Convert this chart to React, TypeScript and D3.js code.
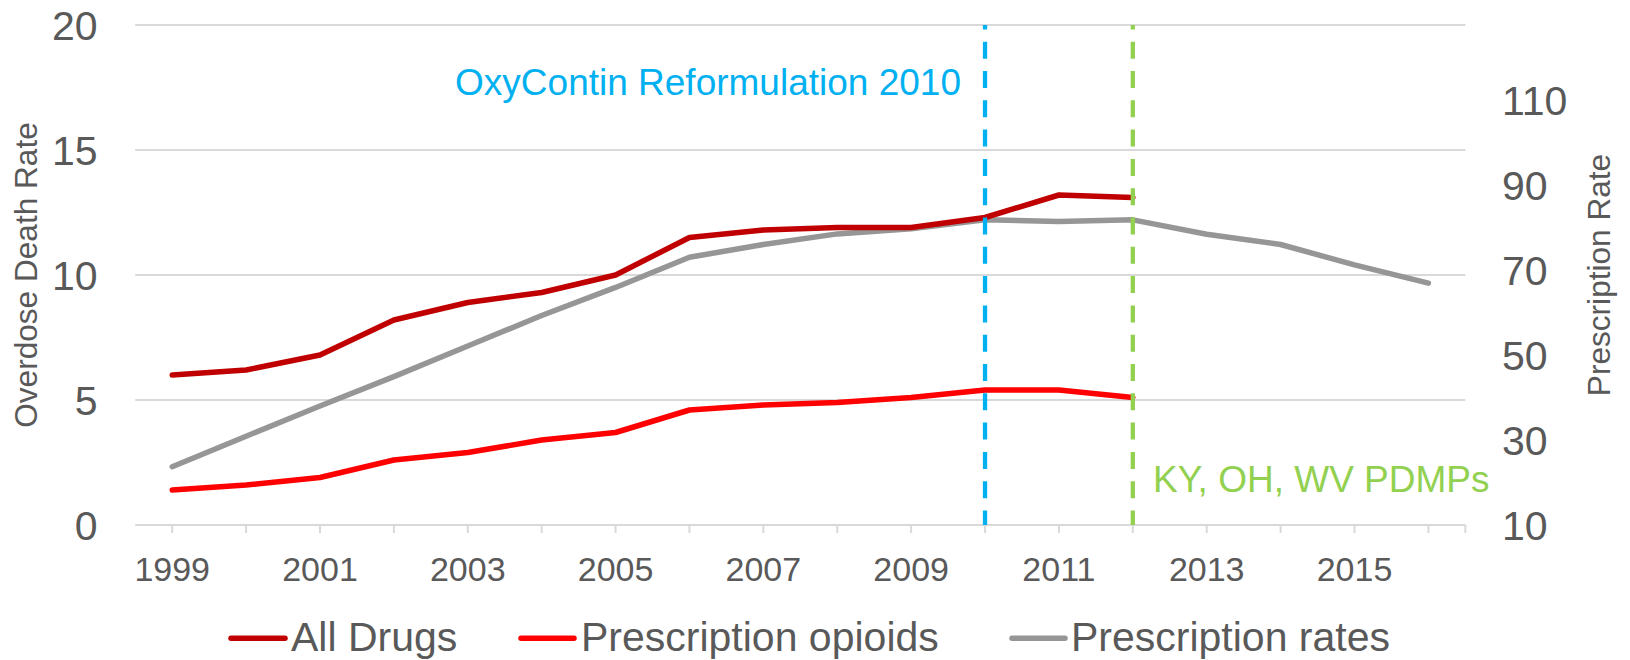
import React from "react";
import * as d3 from "d3";

const years = d3.range(1999, 2017);
const tickLabelYears = [1999, 2001, 2003, 2005, 2007, 2009, 2011, 2013, 2015];
const leftTicks = [0, 5, 10, 15, 20];
const rightTicks = [10, 30, 50, 70, 90, 110];

const allDrugsYears = d3.range(1999, 2013);
const allDrugs = [6.0, 6.2, 6.8, 8.2, 8.9, 9.3, 10.0, 11.5, 11.8, 11.9, 11.9, 12.3, 13.2, 13.1];
const opioidYears = d3.range(1999, 2013);
const opioids = [1.4, 1.6, 1.9, 2.6, 2.9, 3.4, 3.7, 4.6, 4.8, 4.9, 5.1, 5.4, 5.4, 5.1];
const rxYears = d3.range(1999, 2017);
const rxRates = [23.7, 30.9, 38.0, 44.9, 52.1, 59.3, 65.9, 73.0, 76.0, 78.5, 79.7, 81.8, 81.4, 81.8, 78.4, 76.0, 71.2, 66.9];

const events = [
  { year: 2010, label: "OxyContin Reformulation 2010", color: "#00b0f0" },
  { year: 2012, label: "KY, OH, WV PDMPs", color: "#92d050" },
];

const legendItems = [
  { label: "All Drugs", color: "#c00000" },
  { label: "Prescription opioids", color: "#ff0000" },
  { label: "Prescription rates", color: "#969696" },
];

const FONT = "'Liberation Sans', Arial, sans-serif";
const TEXT = "#595959";
const GRID = "#d9d9d9";

export default function App() {
  const x = d3.scaleLinear().domain([1999, 2016]).range([172.2, 1428.4]);
  const yL = d3.scaleLinear().domain([0, 20]).range([525, 25]);
  const yR = d3.scaleLinear().domain([10, 127.65]).range([525, 25]);
  const left = x(1998.5);
  const right = x(2016.5);

  const lineL = d3
    .line<[number, number]>()
    .x((d) => x(d[0]))
    .y((d) => yL(d[1]));
  const lineR = d3
    .line<[number, number]>()
    .x((d) => x(d[0]))
    .y((d) => yR(d[1]));

  const allPts = allDrugsYears.map((yr, i) => [yr, allDrugs[i]] as [number, number]);
  const opPts = opioidYears.map((yr, i) => [yr, opioids[i]] as [number, number]);
  const rxPts = rxYears.map((yr, i) => [yr, rxRates[i]] as [number, number]);

  const legendLayout = [
    { x0: 231, x1: 285, tx: 291 },
    { x0: 521, x1: 574, tx: 581 },
    { x0: 1012, x1: 1065, tx: 1071 },
  ];

  return (
    <svg
      width={1630}
      height={660}
      style={{ position: "absolute", left: 0, top: 0, background: "#fff" }}
      fontFamily={FONT}
    >
      {/* gridlines */}
      {leftTicks.map((t) => (
        <line key={"g" + t} x1={left} x2={right} y1={yL(t)} y2={yL(t)} stroke={GRID} strokeWidth={2} />
      ))}
      {/* x ticks */}
      {[...years, 2016.5].map((yr) => (
        <line key={"t" + yr} x1={x(yr)} x2={x(yr)} y1={yL(0)} y2={yL(0) + 8} stroke={GRID} strokeWidth={2} />
      ))}
      {tickLabelYears.map((yr) => (
        <text key={"xl" + yr} x={x(yr)} y={580.5} textAnchor="middle" fontSize={34} fill={TEXT}>
          {yr}
        </text>
      ))}
      {/* left axis labels */}
      {leftTicks.map((t) => (
        <text key={"yl" + t} x={97.5} y={yL(t) + 41 * 0.358} textAnchor="end" fontSize={41} fill={TEXT}>
          {t}
        </text>
      ))}
      {/* right axis labels */}
      {rightTicks.map((t) => (
        <text key={"yr" + t} x={1502} y={yR(t) + 41 * 0.358} textAnchor="start" fontSize={41} fill={TEXT}>
          {t}
        </text>
      ))}
      {/* axis titles */}
      <text
        transform={`translate(37,275) rotate(-90)`}
        textAnchor="middle"
        fontSize={31.6}
        fill={TEXT}
      >
        Overdose Death Rate
      </text>
      <text
        transform={`translate(1610,275) rotate(-90)`}
        textAnchor="middle"
        fontSize={31.6}
        fill={TEXT}
      >
        Prescription Rate
      </text>

      {/* series */}
      <path d={lineR(rxPts) || ""} fill="none" stroke="#969696" strokeWidth={5.5} strokeLinecap="round" strokeLinejoin="round" />
      <path d={lineL(allPts) || ""} fill="none" stroke="#c00000" strokeWidth={5.5} strokeLinecap="round" strokeLinejoin="round" />
      <path d={lineL(opPts) || ""} fill="none" stroke="#ff0000" strokeWidth={5.5} strokeLinecap="round" strokeLinejoin="round" />

      {/* event lines */}
      {events.map((e) => (
        <line
          key={"e" + e.year}
          x1={x(e.year)}
          x2={x(e.year)}
          y1={yL(20)}
          y2={yL(0)}
          stroke={e.color}
          strokeWidth={4.3}
          strokeDasharray="17 12.3"
          strokeDashoffset={12.6}
        />
      ))}
      <text x={961} y={95} textAnchor="end" fontSize={37} fill={events[0].color}>
        {events[0].label}
      </text>
      <text x={1153} y={491.7} textAnchor="start" fontSize={37} fill={events[1].color}>
        {events[1].label}
      </text>

      {/* legend */}
      {legendItems.map((it, i) => (
        <g key={"lg" + i}>
          <line
            x1={legendLayout[i].x0}
            x2={legendLayout[i].x1}
            y1={638.3}
            y2={638.3}
            stroke={it.color}
            strokeWidth={5.5}
            strokeLinecap="round"
          />
          <text x={legendLayout[i].tx} y={651} fontSize={41} fill={TEXT}>
            {it.label}
          </text>
        </g>
      ))}
    </svg>
  );
}
